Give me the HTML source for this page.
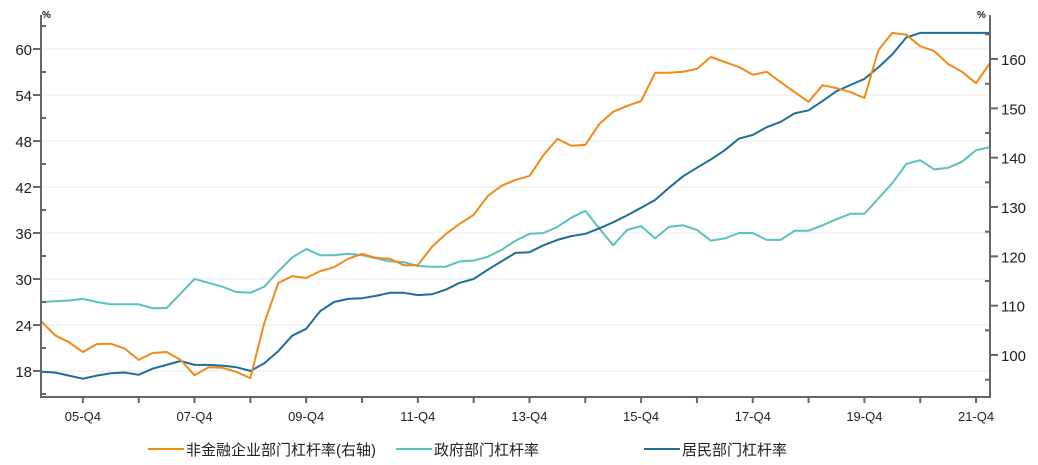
<!DOCTYPE html>
<html><head><meta charset="utf-8"><style>
body{margin:0;background:#fff;}
svg text{font-family:"Liberation Sans","Noto Sans CJK SC",sans-serif;fill:#222;}
</style></head><body>
<svg id="chart" width="1038" height="460" xmlns="http://www.w3.org/2000/svg">
<g id="grid"></g>
<g id="series"></g>
<g id="axes"></g>
<g id="legend"></g>
</svg>
<script>
const xLabels = ["05-Q4","07-Q4","09-Q4","11-Q4","13-Q4","15-Q4","17-Q4","19-Q4","21-Q4"];
const leftTicks = [18,24,30,36,42,48,54,60];
const rightTicks = [100,110,120,130,140,150,160];
const corporate = [106.9,104.0,102.6,100.6,102.2,102.3,101.3,99.0,100.4,100.6,99.0,95.9,97.5,97.4,96.6,95.3,106.5,114.6,116.0,115.6,117.0,117.8,119.5,120.5,119.7,119.5,118.2,118.2,121.9,124.5,126.6,128.4,132.2,134.3,135.5,136.3,140.5,143.8,142.4,142.6,146.8,149.3,150.5,151.5,157.2,157.2,157.4,158.0,160.4,159.4,158.4,156.8,157.4,155.3,153.3,151.3,154.7,154.1,153.3,152.1,161.8,165.3,164.9,162.6,161.6,159.0,157.4,155.1,159.2];
const government = [27.0,27.1,27.2,27.4,27.0,26.7,26.7,26.7,26.2,26.2,28.1,30.0,29.5,29.0,28.3,28.2,29.0,31.0,32.8,33.9,33.1,33.1,33.3,33.1,32.7,32.3,32.2,31.7,31.6,31.6,32.3,32.4,32.9,33.8,35.0,35.9,36.0,36.8,38.0,38.9,36.6,34.4,36.4,36.9,35.3,36.8,37.0,36.4,35.0,35.3,36.0,36.0,35.1,35.1,36.3,36.3,37.0,37.8,38.5,38.5,40.5,42.5,45.0,45.5,44.3,44.5,45.3,46.8,47.2];
const household = [17.9,17.8,17.4,17.0,17.4,17.7,17.8,17.5,18.3,18.8,19.3,18.8,18.8,18.7,18.5,18.0,19.0,20.6,22.6,23.5,25.8,27.0,27.4,27.5,27.8,28.2,28.2,27.9,28.0,28.6,29.5,30.0,31.2,32.3,33.4,33.5,34.4,35.1,35.6,35.9,36.6,37.4,38.3,39.3,40.3,41.9,43.4,44.5,45.6,46.8,48.3,48.8,49.8,50.5,51.6,52.0,53.2,54.5,55.3,56.1,57.6,59.3,61.5,62.1,62.1,62.1,62.1,62.1,62.1];
const NS="http://www.w3.org/2000/svg";
const X0=41,X1=990,Y0=397,Y1=15;
const n=corporate.length;
const x=i=>X0+(X1-X0)*i/(n-1);
const yl=v=>371-(v-18)*322/42;
const yr=v=>355-(v-100)*49.33/10;
function mk(tag,attrs,parent,txt){const e=document.createElementNS(NS,tag);for(const k in attrs)e.setAttribute(k,attrs[k]);if(txt!==undefined)e.textContent=txt;parent.appendChild(e);return e;}
const grid=document.getElementById('grid'),axes=document.getElementById('axes'),ser=document.getElementById('series'),leg=document.getElementById('legend');
leftTicks.forEach(v=>{const l=mk('line',{x1:X0,x2:X1,y1:yl(v),y2:yl(v),stroke:'#ebebeb','stroke-width':1},grid);

});
// axes
mk('line',{x1:X0,x2:X0,y1:Y1,y2:Y0+1,stroke:'#666','stroke-width':2},axes);
mk('line',{x1:X1,x2:X1,y1:Y1,y2:Y0+1,stroke:'#666','stroke-width':2},axes);
mk('line',{x1:X0,x2:X1,y1:Y0,y2:Y0,stroke:'#666','stroke-width':2},axes);
for(let v=15;v<=63;v+=3){const y=yl(v);if(v%6===0){mk('line',{x1:X0-8,x2:X0,y1:y,y2:y,stroke:'#666','stroke-width':2},axes);
const t=mk('text',{x:X0-9,y:y+6,'text-anchor':'end','font-size':15},axes,String(v));

}else mk('line',{x1:X0,x2:X0+5,y1:y,y2:y,stroke:'#666','stroke-width':2},axes);}
for(let v=95;v<=165;v+=5){const y=yr(v);if(y<Y1||y>Y0)continue;if(v%10===0){mk('line',{x1:X1,x2:X1+8,y1:y,y2:y,stroke:'#666','stroke-width':2},axes);
const t=mk('text',{x:X1+11,y:y+6,'font-size':15},axes,String(v));

}else mk('line',{x1:X1-5,x2:X1,y1:y,y2:y,stroke:'#666','stroke-width':2},axes);}
for(let i=3;i<n;i+=4){const xx=x(i);mk('line',{x1:xx,x2:xx,y1:Y0,y2:Y0+6,stroke:'#666','stroke-width':2},axes);}
xLabels.forEach((s,k)=>{const t=mk('text',{x:x(3+8*k),y:421,'text-anchor':'middle','font-size':13},axes,s);

});
mk('text',{x:X0+1,y:18,'font-size':10,'font-weight':'bold'},axes,'%');
mk('text',{x:X1-13,y:18,'font-size':10,'font-weight':'bold'},axes,'%');
function line(data,fy,color,name){const p=mk('polyline',{points:data.map((v,i)=>x(i).toFixed(1)+','+fy(v).toFixed(1)).join(' '),fill:'none',stroke:color,'stroke-width':2,'stroke-linejoin':'round'},ser);

}
line(government,yl,'#5BC0C0','government-line');
line(household,yl,'#1F6E99','household-line');
line(corporate,yr,'#F28A1A','corporate-line');
[[148,'#F28A1A','非金融企业部门杠杆率(右轴)'],[396,'#5BC0C0','政府部门杠杆率'],[644,'#1F6E99','居民部门杠杆率']].forEach(e=>{
const g=mk('g',{},leg);


mk('line',{x1:e[0],x2:e[0]+36,y1:449,y2:449,stroke:e[1],'stroke-width':2},g);
mk('text',{x:e[0]+38,y:455,'font-size':15},g,e[2]);});
</script>
</body></html>
